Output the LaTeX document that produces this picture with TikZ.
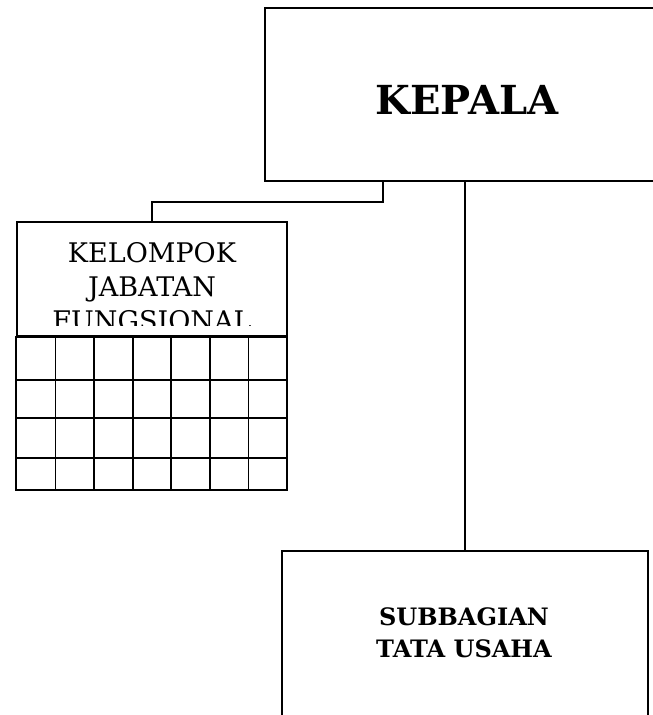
\documentclass[tikz,border=0pt]{standalone}
\usepackage{fontspec}
\setmainfont{DejaVu Serif}
\tikzset{
  unitbox/.style={draw, line width=1.8pt, inner sep=0pt},
  link/.style={line width=1.5pt}
}
\begin{document}
\begin{tikzpicture}[x=1pt, y=-1pt, every node/.style={align=center}]
    \useasboundingbox (0,0) rectangle (653,715);
    \clip (0,0) rectangle (653,715);

    % kepala
    \node[unitbox, minimum width=405pt, minimum height=173pt] (kepala) at (467.5,94.5) {};
    \node[font=\fontsize{40}{48}\selectfont\bfseries] (kepalatxt) at (467,100) {KEPALA};

    % kelompok jabatan fungsional
    \node[unitbox, minimum width=270pt, minimum height=114pt] (kjf) at (152,279) {};
    \begin{scope}
        \clip (17,222) rectangle (287,325.5);
        \node[font=\fontsize{27}{34}\selectfont] (kjftxt) at (152,286.5) {KELOMPOK\\JABATAN\\FUNGSIONAL};
    \end{scope}
    \draw[link, line width=1.7pt] (kjf.south west) rectangle (287,490);
    \foreach \i in {1,...,6}
        \draw[link, line width=1.7pt] (17+\i*38.57,336) -- (17+\i*38.57,490);
    \foreach \y in {380,418,458}
        \draw[link, line width=1.7pt] (17,\y) -- (287,\y);

    % subbagian tata usaha
    \node[unitbox, minimum width=366pt, minimum height=190pt] (tu) at (465,646) {};
    \node[font=\fontsize{24}{32}\selectfont\bfseries] (tutxt) at (464,633) {SUBBAGIAN\\TATA USAHA};

    \coordinate (kjfjoint) at (383,202);
    \draw[link] (kepala.south -| kjfjoint) -- (kjfjoint) -| (kjf.north);
    \draw[link] (kepala.south -| tu.north) -- (tu.north);
\end{tikzpicture}
\end{document}
